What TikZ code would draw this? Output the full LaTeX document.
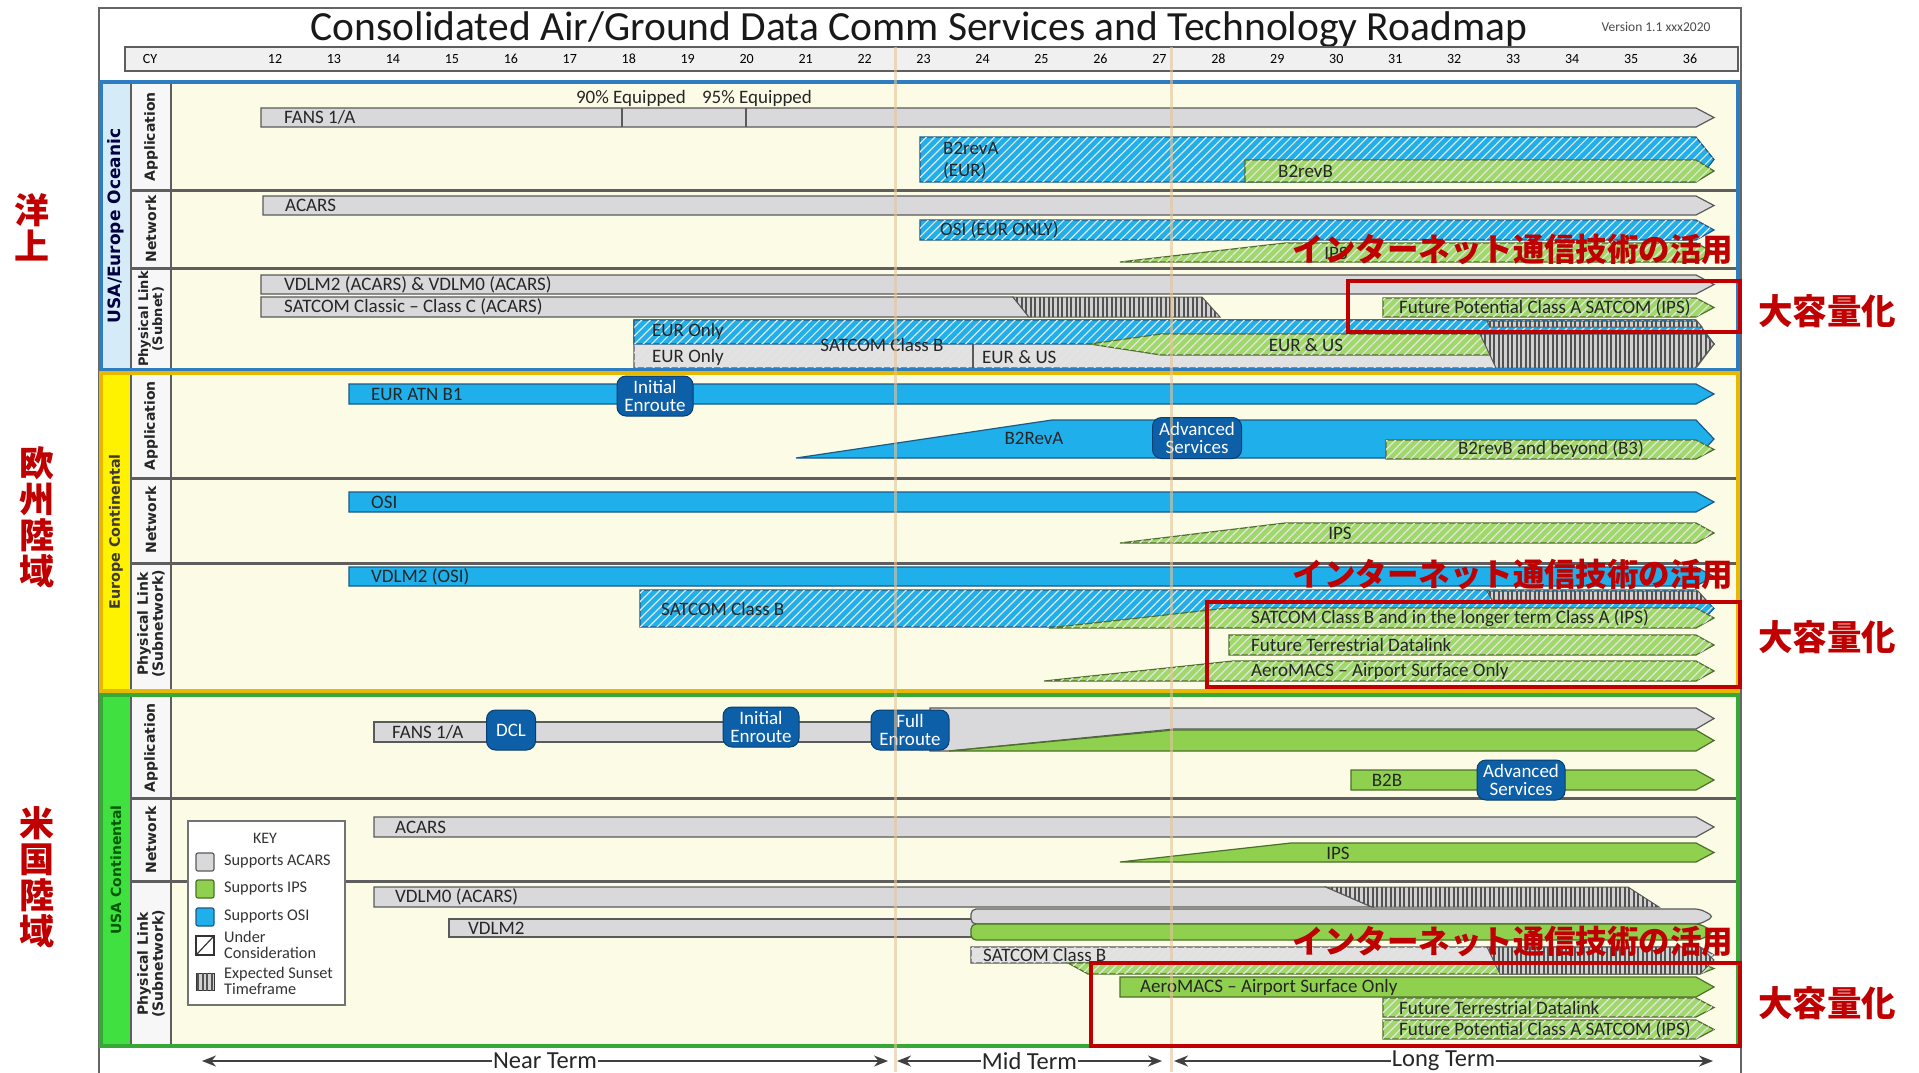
\documentclass[tikz,border=0pt]{standalone}
\usepackage{fontspec}
\setmainfont{Carlito}
\newfontfamily\vfont{DejaVu Sans}
\newfontfamily\jpfont{Noto Sans CJK JP}
\usetikzlibrary{patterns.meta,arrows.meta}
\definecolor{barGray}{HTML}{D9D9DB}
\definecolor{barEdge}{HTML}{5A5A5A}
\definecolor{blueFill}{HTML}{1FAFEA}
\definecolor{blueEdge}{HTML}{1C5A85}
\definecolor{greenFill}{HTML}{8FD14F}
\definecolor{greenEdge}{HTML}{4E6E2C}
\definecolor{msBlue}{HTML}{0D5FA8}
\definecolor{msEdge}{HTML}{083E70}
\definecolor{cream}{HTML}{FBFBE6}
\definecolor{redAnn}{HTML}{C00000}
\definecolor{tanLine}{HTML}{E2C49A}
\definecolor{ocBlue}{HTML}{2E7DC0}
\definecolor{ocBand}{HTML}{D5EBF8}
\definecolor{euGold}{HTML}{E8B800}
\definecolor{euBand}{HTML}{FFF200}
\definecolor{usGreen}{HTML}{36A836}
\definecolor{usBand}{HTML}{40E040}
\definecolor{sepGray}{HTML}{5E5E5E}
\newcommand{\mychev}[5]{\path[#1] (#2,#4) -- ({#3-18},#4) -- (#3,{(#4+#5)/2}) -- ({#3-18},#5) -- (#2,#5) -- cycle;}
\newcommand{\myramp}[6]{\path[#1] (#2,#6) -- (#3,#5) -- ({#4-18},#5) -- (#4,{(#5+#6)/2}) -- ({#4-18},#6) -- cycle;}
\tikzset{
  gbar/.style={fill=barGray, draw=barEdge, line width=1.2pt},
  bbar/.style={fill=blueFill, draw=blueEdge, line width=1.2pt},
  grbar/.style={fill=greenFill, draw=greenEdge, line width=1.2pt},
  hatchpat/.style={postaction={pattern={Lines[angle=45,distance=6pt,line width=1.2pt]},pattern color=white!80!gray}},
  bhatch/.style={bbar, hatchpat},
  grhatch/.style={grbar, fill=greenFill!85!white, hatchpat},
  gyhatch/.style={gbar, fill=barGray!80!white, hatchpat},
  sunset/.style={fill=black!18, draw=barEdge, line width=1pt, postaction={pattern={Lines[angle=90,distance=4.5pt,line width=2pt]},pattern color=black!68}},
  blab/.style={anchor=west, inner sep=0pt, font=\fontsize{19}{19}\selectfont, text=black!85},
  clab/.style={blab, anchor=center},
  mstone/.style={fill=msBlue, draw=msEdge, line width=1pt, rounded corners=9pt, text=white, align=center, inner sep=0pt, font=\fontsize{19}{17.5}\selectfont},
  seclab/.style={rotate=90, font=\vfont\bfseries\fontsize{17}{17}\selectfont},
  rowlab/.style={rotate=90, align=center, font=\vfont\bfseries\fontsize{14}{15}\selectfont, text=black!85},
  sep/.style={draw=sepGray, line width=3pt},
  keytxt/.style={anchor=west, align=left, inner sep=0pt, font=\fontsize{16.3}{16.5}\selectfont, text=black!80},
  termarrow/.style={draw=black!75, line width=2pt, {Stealth[length=14pt,width=11pt]}-{Stealth[length=14pt,width=11pt]}},
  termlab/.style={fill=white, inner sep=1pt, font=\fontsize{24.5}{24.5}\selectfont, text=black!85},
  redbox/.style={draw=redAnn, line width=4pt, inner sep=0pt},
  jpline/.style={text=redAnn, inner sep=0pt, font=\jpfont\bfseries\fontsize{32}{32}\selectfont},
  jpbig/.style={text=redAnn, inner sep=0pt, align=center, font=\jpfont\bfseries\fontsize{35}{36}\selectfont}
}
\begin{document}
\begin{tikzpicture}[x=1pt,y=-1pt]
\useasboundingbox (0,0) rectangle (1919,1072);
\fill[white] (0,0) rectangle (1919,1072);
% outer frame
\draw[black!60, line width=1.5pt] (99,8) rectangle (1741,1080);
\node[anchor=base, font=\fontsize{41.5}{41.5}\selectfont, text=black!90] (title) at (919,40) {Consolidated Air/Ground Data Comm Services and Technology Roadmap};
\node[font=\fontsize{13.5}{13.5}\selectfont, text=black!70] (version) at (1656,27) {Version 1.1 xxx2020};
% CY row
\draw[fill=black!6, draw=sepGray, line width=2.5pt] (125,47) rectangle (1738,71);
\node[font=\fontsize{14}{14}\selectfont] (cy) at (150,59) {CY};
\foreach \n in {12,...,36} { \node[font=\fontsize{14}{14}\selectfont] (yr\n) at ({275+(\n-12)*58.96},59) {\n}; }

% ---------- Oceanic ----------
\fill[ocBand] (101,82) rectangle (131,370);
\fill[black!3] (131,82) rectangle (171,370);
\fill[cream] (171,82) rectangle (1738,370);
\draw[sep] (131,190) -- (1738,190);
\draw[sep] (131,268) -- (1738,268);
\draw[sepGray, line width=1.5pt] (131,82) -- (131,370) (171,82) -- (171,370);
\node[seclab, text=blue!25!black] (ocLab) at (116,226) {USA/Europe Oceanic};
\node[rowlab] (ocApp) at (151,137) {Application};
\node[rowlab] (ocNet) at (151,229) {Network};
\node[rowlab, font=\vfont\bfseries\fontsize{13}{14}\selectfont] (ocPhy) at (151,319) {Physical Link\\(Subnet)};
% bars
\mychev{gbar}{261}{1714}{108}{127}
\draw[barEdge, line width=1.2pt] (622,108) -- (622,127) (746,108) -- (746,127);
\node[blab] (tFansO) at (284,117.5) {FANS 1/A};
\node[clab] (t90) at (631,98) {90\% Equipped};
\node[clab] (t95) at (757,98) {95\% Equipped};
\mychev{bhatch}{920}{1714}{137}{182}
\mychev{grhatch}{1245}{1714}{160}{182}
\node[blab] (tB2a) at (943,148) {B2revA};
\node[blab] (tB2aE) at (943,171) {(EUR)};
\node[blab] (tB2b) at (1278,171) {B2revB};
\mychev{gbar}{263}{1714}{196}{215}
\node[blab] (tAcO) at (285,205.5) {ACARS};
\mychev{bhatch}{920}{1714}{220}{240}
\node[blab] (tOsiO) at (940,230) {OSI (EUR ONLY)};
\myramp{grhatch}{1120}{1285}{1714}{243}{262}
\node[clab] (tIpsO) at (1336,253) {IPS};
\mychev{gbar}{261}{1714}{275}{294}
\node[blab] (tVdlO) at (284,284.5) {VDLM2 (ACARS) \& VDLM0 (ACARS)};
\path[gbar] (261,297) -- (1013,297) -- (1029,317) -- (261,317) -- cycle;
\path[sunset] (1013,297) -- (1202,297) -- (1220,317) -- (1029,317) -- cycle;
\node[blab] (tSatC) at (284,307) {SATCOM Classic – Class C (ACARS)};
\mychev{grhatch}{1383}{1714}{298}{317}
\node[blab] (tFpO) at (1399,307.5) {Future Potential Class A SATCOM (IPS)};
\mychev{gyhatch}{634}{1714}{320}{368}
\path[bhatch] (634,320) -- (1695,320) -- (1714,344) -- (634,344) -- cycle;
\draw[barEdge, line width=1.2pt] (973,344) -- (973,368);
\path[grhatch] (1090,344) -- (1161,334) -- (1705,334) -- (1714,344) -- (1705,355) -- (1161,355) -- cycle;
\path[sunset] (1487,321) -- (1697,321) -- (1702,327) -- (1490,327) -- cycle;
\path[sunset] (1480,334) -- (1705,334) -- (1714,344) -- (1695,368) -- (1496,368) -- cycle;
\node[blab] (tEurO1) at (652,331.5) {EUR Only};
\node[blab] (tEurO2) at (652,357) {EUR Only};
\node[blab] (tEurUs1) at (982,357) {EUR \& US};
\node[clab] (tSatBO) at (882,345) {SATCOM Class B};
\node[clab] (tEurUs2) at (1306,345) {EUR \& US};
\draw[ocBlue, line width=4pt] (101,82) rectangle (1738,370);

% ---------- Europe ----------
\fill[euBand] (101,373) rectangle (131,691);
\fill[black!3] (131,373) rectangle (171,691);
\fill[cream] (171,373) rectangle (1738,691);
\draw[sep] (131,478) -- (1738,478);
\draw[sep] (131,563) -- (1738,563);
\draw[sepGray, line width=1.5pt] (131,373) -- (131,691) (171,373) -- (171,691);
\node[seclab, text=black!80!yellow!60!black, font=\vfont\bfseries\fontsize{14.3}{14.3}\selectfont] (euLab) at (116,532) {Europe Continental};
\node[rowlab] (euApp) at (151,426) {Application};
\node[rowlab] (euNet) at (151,520) {Network};
\node[rowlab] (euPhy) at (151,624) {Physical Link\\(Subnetwork)};
\mychev{bbar}{349}{1714}{384}{404}
\node[blab] (tAtn) at (371,394) {EUR ATN B1};
\myramp{bbar}{796}{1052}{1714}{420}{458}
\node[clab] (tB2RevA) at (1034,438) {B2RevA};
\mychev{grhatch}{1386}{1714}{440}{459}
\node[clab] (tB3) at (1551,449.5) {B2revB and beyond (B3)};
\node[mstone, minimum width=76pt, minimum height=40pt] (msEuIE) at (655,396) {Initial\\Enroute};
\node[mstone, minimum width=89pt, minimum height=41pt] (msEuAS) at (1197,438) {Advanced\\Services};
\mychev{bbar}{349}{1714}{492}{512}
\node[blab] (tOsiE) at (371,502) {OSI};
\myramp{grhatch}{1120}{1285}{1714}{523}{543}
\node[clab] (tIpsE) at (1340,533) {IPS};
\mychev{bbar}{349}{1714}{567}{586}
\node[blab] (tVdlE) at (371,576.5) {VDLM2 (OSI)};
\mychev{bhatch}{640}{1714}{590}{627}
\path[sunset] (1487,591) -- (1698,591) -- (1706,600) -- (1492,600) -- cycle;
\node[blab] (tSatBE) at (661,608.5) {SATCOM Class B};
\myramp{grhatch}{1049}{1228}{1714}{608}{628}
\node[blab] (tSatBA) at (1251,618) {SATCOM Class B and in the longer term Class A (IPS)};
\mychev{grhatch}{1229}{1714}{635}{655}
\node[blab] (tFtdE) at (1251,645) {Future Terrestrial Datalink};
\myramp{grhatch}{1044}{1233}{1714}{661}{681}
\node[blab] (tAeroE) at (1251,671) {AeroMACS – Airport Surface Only};
\draw[euGold, line width=4pt] (101,373) rectangle (1738,691);

% ---------- USA ----------
\fill[usBand] (101,695) rectangle (131,1046);
\fill[black!3] (131,695) rectangle (171,1046);
\fill[cream] (171,695) rectangle (1738,1046);
\draw[sep] (131,798) -- (1738,798);
\draw[sep] (131,881) -- (1738,881);
\draw[sepGray, line width=1.5pt] (131,695) -- (131,1046) (171,695) -- (171,1046);
\node[seclab, text=green!35!black, font=\vfont\bfseries\fontsize{14}{14}\selectfont] (usLab) at (116,870) {USA Continental};
\node[rowlab] (usApp) at (151,748) {Application};
\node[rowlab] (usNet) at (151,840) {Network};
\node[rowlab] (usPhy) at (151,964) {Physical Link\\(Subnetwork)};
\path[gbar] (374,722) rectangle (912,742);
\node[blab] (tFansU) at (392,732) {FANS 1/A};
\path[gbar] (930,708) -- (1696,708) -- (1714,718.5) -- (1696,729) -- (1174,729) -- (949,751) -- (930,751) -- cycle;
\path[grbar] (949,751) -- (1174,730) -- (1696,730) -- (1714,740.5) -- (1696,751) -- cycle;
\node[mstone, minimum width=49pt, minimum height=40pt] (msDcl) at (511,730) {DCL};
\node[mstone, minimum width=76pt, minimum height=40pt] (msUsIE) at (761,727) {Initial\\Enroute};
\node[mstone, minimum width=78pt, minimum height=40pt] (msUsFE) at (910,730) {Full\\Enroute};
\mychev{grbar}{1351}{1714}{770}{790}
\node[clab] (tB2B) at (1387,780) {B2B};
\node[mstone, minimum width=88pt, minimum height=40pt] (msUsAS) at (1521,780) {Advanced\\Services};
\mychev{gbar}{374}{1714}{817}{837}
\node[blab] (tAcU) at (395,827) {ACARS};
\myramp{grbar}{1120}{1291}{1714}{843}{862}
\node[clab] (tIpsU) at (1338,853) {IPS};
\path[gbar] (374,887) -- (1326,887) -- (1372,907) -- (374,907) -- cycle;
\path[sunset] (1326,887) -- (1628,887) -- (1659,907) -- (1372,907) -- cycle;
\node[blab] (tVdl0U) at (395,897) {VDLM0 (ACARS)};
\path[gbar] (449,919) rectangle (975,937);
\node[blab] (tVdl2U) at (468,928) {VDLM2};
\path[gbar, rounded corners=5pt] (971,924) -- (971,909) -- (1700,909) -- (1714,916.5) -- (1700,924) -- cycle;
\path[grbar, rounded corners=5pt] (971,924) -- (1700,924) -- (1714,932) -- (1700,940) -- (971,940) -- cycle;
\path[gyhatch] (971,947) -- (1700,947) -- (1714,955) -- (1700,963) -- (971,963) -- cycle;
\path[grhatch] (1068,963) -- (1700,963) -- (1714,968.5) -- (1700,974) -- (1088,974) -- cycle;
\path[sunset] (1487,947) -- (1700,947) -- (1714,960) -- (1700,974) -- (1500,974) -- cycle;
\node[blab] (tSatBU) at (983,955) {SATCOM Class B};
\mychev{grbar}{1120}{1714}{977}{997}
\node[blab] (tAeroU) at (1140,987) {AeroMACS – Airport Surface Only};
\mychev{grhatch}{1383}{1714}{998}{1017}
\node[blab] (tFtdU) at (1399,1007.5) {Future Terrestrial Datalink};
\mychev{grhatch}{1383}{1714}{1020}{1039}
\node[blab] (tFpU) at (1399,1029.5) {Future Potential Class A SATCOM (IPS)};
\draw[usGreen, line width=4pt] (101,695) rectangle (1738,1046);

% ---------- Key ----------
\node[draw=black!55, fill=white, line width=1.5pt, minimum width=157pt, minimum height=184pt, anchor=north west, inner sep=0pt] (key) at (187,820) {};
\node[font=\fontsize{16}{16}\selectfont, text=black!80] (keyT) at (265,838) {KEY};
\draw[gbar, rounded corners=2pt] (196,853) rectangle (214,871);
\draw[grbar, rounded corners=2pt] (196,880) rectangle (214,898);
\draw[bbar, rounded corners=2pt] (196,908) rectangle (214,926);
\draw[fill=white, draw=black!80, line width=1.2pt] (196,936) rectangle (214,955);
\draw[black!80, line width=1.2pt] (197,954) -- (213,937);
\path[sunset, draw=black!80] (196,973) rectangle (214,990);
\node[keytxt] (k1) at (224,862) {Supports ACARS};
\node[keytxt] (k2) at (224,889) {Supports IPS};
\node[keytxt] (k3) at (224,917) {Supports OSI};
\node[keytxt] (k4) at (224,945) {Under\\Consideration};
\node[keytxt] (k5) at (224,981) {Expected Sunset\\Timeframe};

% ---------- term lines ----------
\draw[tanLine, line width=3pt, opacity=0.6] (895,47) -- (895,1072);
\draw[tanLine, line width=3pt, opacity=0.6] (1171,47) -- (1171,1072);
\coordinate (n1) at (202,1061); \coordinate (n2) at (888,1061);
\coordinate (m1) at (897,1061); \coordinate (m2) at (1162,1061);
\coordinate (l1) at (1174,1061); \coordinate (l2) at (1713,1061);
\draw[termarrow] (n1) -- node[termlab] (near) {Near Term} (n2);
\draw[termarrow] (m1) -- node[termlab] (mid) {Mid Term} (m2);
\draw[termarrow] (l1) -- node[termlab] (long) {Long Term} (l2);

% ---------- red annotations ----------
\node[redbox, minimum width=392pt, minimum height=51pt, anchor=north west] (rb1) at (1346,279) {};
\node[redbox, minimum width=533pt, minimum height=85pt, anchor=north west] (rb2) at (1205,600) {};
\node[redbox, minimum width=649pt, minimum height=83pt, anchor=north west] (rb3) at (1089,961) {};
\node[jpline] (jp1) at (1513,249) {\scalebox{0.984}[1]{インターネット通信技術の活用}};
\node[jpline] (jp2) at (1513,574) {\scalebox{0.984}[1]{インターネット通信技術の活用}};
\node[jpline] (jp3) at (1513,941) {\scalebox{0.984}[1]{インターネット通信技術の活用}};
\node[jpbig] (dy1) at (1827,311) {\scalebox{0.985}[1]{大容量化}};
\node[jpbig] (dy2) at (1827,637) {\scalebox{0.985}[1]{大容量化}};
\node[jpbig] (dy3) at (1827,1003) {\scalebox{0.985}[1]{大容量化}};
\node[jpbig] (jpOc) at (32,227) {洋\\上};
\node[jpbig] (jpEu) at (37,517) {欧\\州\\陸\\域};
\node[jpbig] (jpUs) at (37,877) {米\\国\\陸\\域};
\end{tikzpicture}
\end{document}
